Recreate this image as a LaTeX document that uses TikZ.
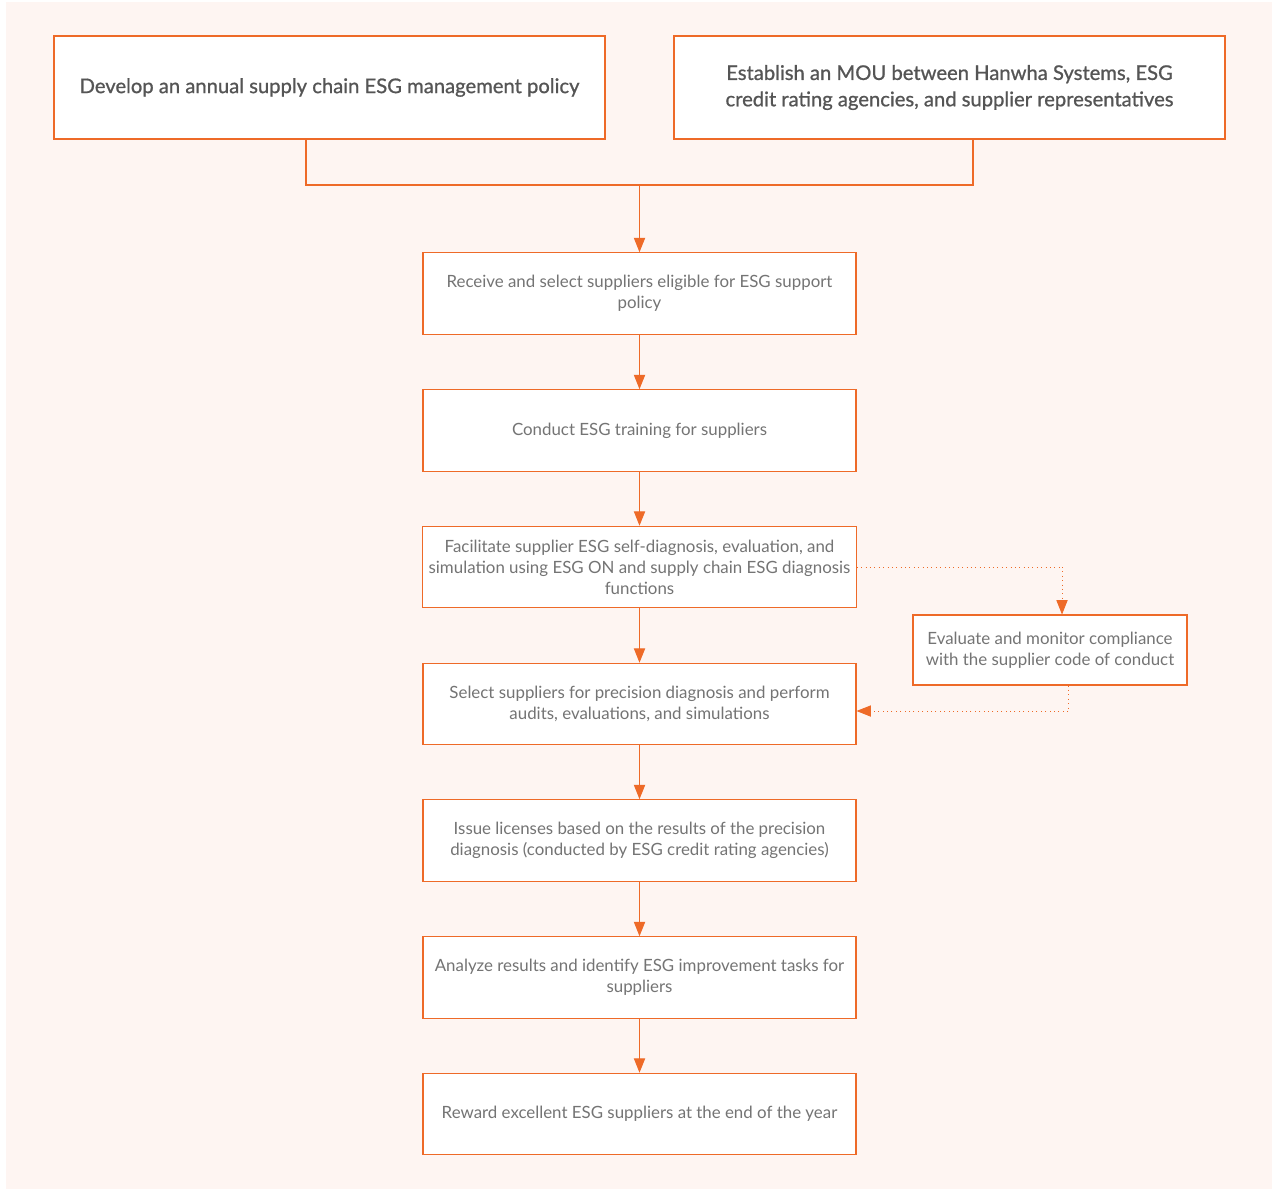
\documentclass[tikz,border=0pt]{standalone}
\usepackage{fontspec}
\setmainfont{Lato}
\newfontfamily\headfont[FakeBold=0.9]{Lato}
\usepackage{tikz}
\definecolor{hworange}{RGB}{238,106,40}
\definecolor{hwline}{RGB}{243,140,80}
\definecolor{hwbg}{RGB}{254,245,242}
\definecolor{hwtext}{RGB}{100,100,100}
\usetikzlibrary{
  arrows.meta,
  positioning,
  calc
}

\begin{document}
\begin{tikzpicture}[>={Triangle[width=6.4pt,length=8.2pt]},
  topbox/.style={draw=hworange, line width=0.7pt, fill=white,
    minimum width=11.02cm, minimum height=2.06cm, align=center,
    text=hwtext!85!black, font=\headfont\fontsize{11.5}{15}\selectfont},
  stepbox/.style={draw=hworange, line width=0.6pt, fill=white,
    minimum width=8.66cm, minimum height=1.63cm, align=center,
    text=hwtext!90, font=\fontsize{9.6}{12}\selectfont},
  flow/.style={hworange, line width=0.6pt},
  dotflow/.style={hworange, line width=0.5pt, dotted}]

  %% ===== PAGE =====
  \useasboundingbox (0,0) rectangle (25.44,-23.78);
  \fill[hwbg] (0.12,-0.04) rectangle (25.44,-23.78);

  %% ===== TOP BOXES =====
  \node[topbox] (policy) at (6.59,-1.75)
    {Develop an annual supply chain ESG management policy};
  \node[topbox] (mou) at (18.99,-1.75)
    {Establish an MOU between Hanwha Systems, ESG\\
     credit rating agencies, and supplier representatives};

  %% ===== MAIN STEPS =====
  \node[stepbox] (s1) at (12.79,-5.87)
    {Receive and select suppliers eligible for ESG support\\policy};
  \node[stepbox] (s2) at (12.79,-8.61)
    {Conduct ESG training for suppliers};
  \node[stepbox] (s3) at (12.79,-11.34)
    {Facilitate supplier ESG self-diagnosis, evaluation, and\\
     simulation using ESG ON and supply chain ESG diagnosis\\functions};
  \node[stepbox] (s4) at (12.79,-14.08)
    {Select suppliers for precision diagnosis and perform\\
     audits, evaluations, and simulations};
  \node[stepbox] (s5) at (12.79,-16.81)
    {Issue licenses based on the results of the precision\\
     diagnosis (conducted by ESG credit rating agencies)};
  \node[stepbox] (s6) at (12.79,-19.55)
    {Analyze results and identify ESG improvement tasks for\\suppliers};
  \node[stepbox] (s7) at (12.79,-22.28)
    {Reward excellent ESG suppliers at the end of the year};

  % Side check
  \node[stepbox, minimum width=5.48cm, minimum height=1.40cm] (audit)
    at (21.0,-13.0)
    {Evaluate and monitor compliance\\with the supplier code of conduct};

  %% ===== CONNECTORS =====
  \coordinate (policyfoot) at (6.12,-2.78);
  \coordinate (moufoot) at (19.46,-2.78);
  \coordinate (join) at (12.79,-3.70);
  \draw[flow] (policyfoot) |- (join) -| (moufoot);
  \draw[flow,->] (join) -- (s1);

  \foreach \a/\b in {s1/s2, s2/s3, s3/s4, s4/s5, s5/s6, s6/s7}
    \draw[flow,->] (\a) -- (\b);

  % Dotted side loop
  \coordinate (tapout) at (21.24,-11.34);
  \coordinate (tapin) at (21.36,-14.22);
  \draw[dotflow] (s3.east) -- (tapout);
  \draw[dotflow,->] (tapout) -- (tapout |- audit.north);
  \draw[dotflow] (tapin |- audit.south) -- (tapin);
  \draw[dotflow,->] (tapin) -- (tapin -| s4.east);

\end{tikzpicture}
\end{document}
